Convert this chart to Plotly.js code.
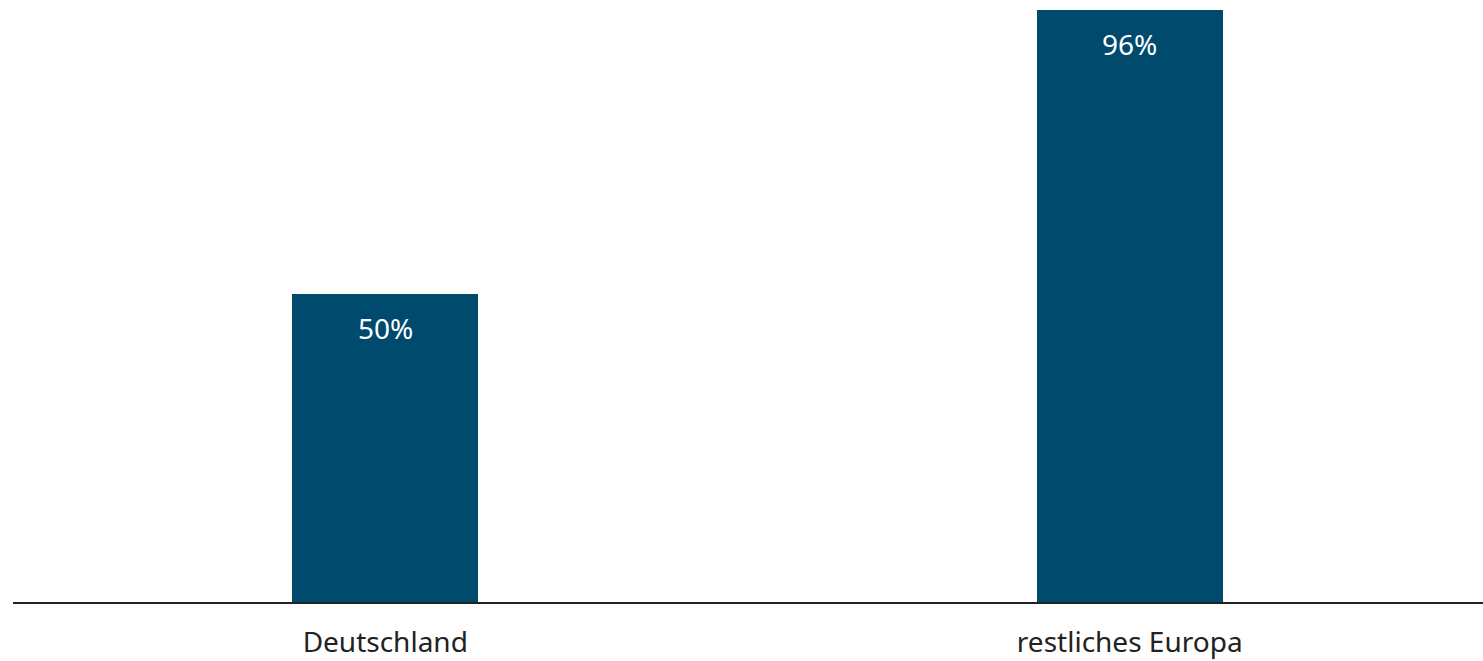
<!DOCTYPE html>
<html>
<head>
<meta charset="utf-8">
<script src="https://cdn.plot.ly/plotly-3.0.1.min.js"></script>
<style>
  html, body { margin: 0; padding: 0; background: #ffffff; }
  #chart { width: 1483px; height: 661px; }
</style>
</head>
<body>
<div id="chart"></div>
<script>
// Share by region (percent)
const regions = ["Deutschland", "restliches Europa"];
const shares = [50, 96];
const valueLabels = shares.map(v => v + "%");

const barColor = "#004a6e";
const fontFamily = "'Noto Sans', 'Open Sans', sans-serif";

const trace = {
  type: "bar",
  x: regions,
  y: shares,
  width: 0.25,
  marker: { color: barColor, line: { width: 0 } },
  hoverinfo: "skip"
};

// Value labels sit inside each bar, just below its top edge
const annotations = regions.map((r, i) => ({
  x: r,
  y: shares[i],
  xref: "x",
  yref: "y",
  text: valueLabels[i],
  showarrow: false,
  yanchor: "top",
  yshift: -13,
  font: { family: fontFamily, size: 28, color: "#ffffff" }
}));

const layout = {
  width: 1483,
  height: 661,
  margin: { l: 13, r: 0, t: 0, b: 59 },
  paper_bgcolor: "#ffffff",
  plot_bgcolor: "rgba(0,0,0,0)",
  showlegend: false,
  bargap: 0,
  xaxis: {
    type: "category",
    range: [-0.5, 1.4745],
    showline: true,
    linecolor: "#222222",
    linewidth: 2,
    showgrid: false,
    zeroline: false,
    ticks: "outside",
    ticklen: 14,
    tickcolor: "rgba(0,0,0,0)",
    tickfont: { family: fontFamily, size: 28, color: "#222222" },
    fixedrange: true
  },
  yaxis: {
    range: [0, 97.6],
    showline: false,
    showgrid: false,
    zeroline: false,
    showticklabels: false,
    ticks: "",
    fixedrange: true
  },
  annotations: annotations
};

Plotly.newPlot("chart", [trace], layout, { displayModeBar: false, staticPlot: true });
</script>
</body>
</html>
